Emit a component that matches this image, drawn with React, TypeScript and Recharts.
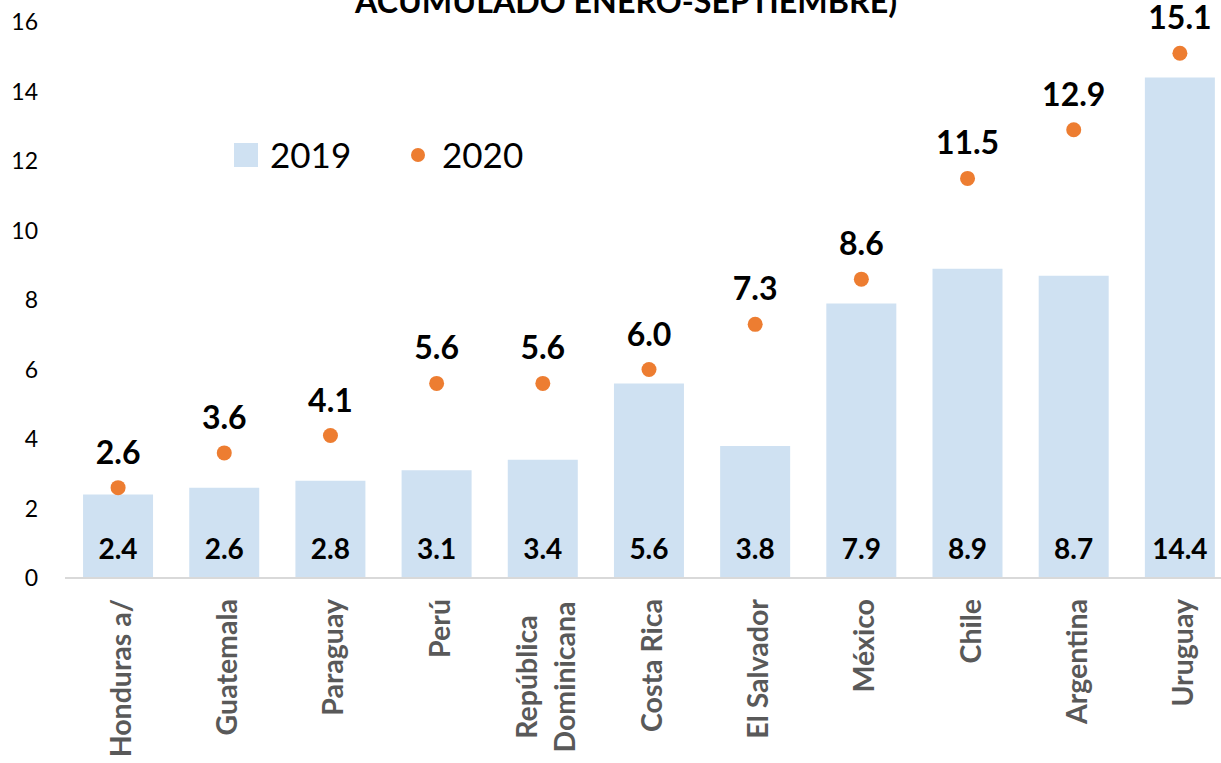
import React from 'react';
import { ComposedChart, Bar, Line, XAxis, YAxis, LabelList } from 'recharts';

const categories = ['Honduras a/', 'Guatemala', 'Paraguay', 'Perú', 'República\nDominicana', 'Costa Rica', 'El Salvador', 'México', 'Chile', 'Argentina', 'Uruguay'];
const values2019 = [2.4, 2.6, 2.8, 3.1, 3.4, 5.6, 3.8, 7.9, 8.9, 8.7, 14.4];
const values2020 = [2.6, 3.6, 4.1, 5.6, 5.6, 6.0, 7.3, 8.6, 11.5, 12.9, 15.1];
const yTicks = [0, 2, 4, 6, 8, 10, 12, 14, 16];
const titleText = 'ACUMULADO ENERO-SEPTIEMBRE)';
const seriesNames = ['2019', '2020'];

const data = categories.map((c, i) => ({ name: c, y2019: values2019[i], y2020: values2020[i] }));

const FONT = 'Lato, "Noto Sans", sans-serif';
const BAR_COLOR = '#CFE1F2';
const DOT_COLOR = '#ED7D31';

const XTick = (props: any) => {
  const { x, y, payload } = props;
  const lines = String(payload.value).split('\n');
  const n = lines.length;
  const L = 38;
  return (
    <g>
      {lines.map((ln, i) => {
        const tx = x + 13 - ((n - 1) * L) / 2 + i * L;
        const ty = n > 1 ? y + 99 : y + 21;
        return (
          <text
            key={i}
            transform={`translate(${tx},${ty}) rotate(-90)`}
            textAnchor={n > 1 ? 'middle' : 'end'}
            fill="#595959"
            fontFamily={FONT}
            fontWeight="bold"
            fontSize={28.5}
          >
            {ln}
          </text>
        );
      })}
    </g>
  );
};

const BarValueLabel = (props: any) => {
  const { x, y, width, height, value } = props;
  return (
    <text x={x + width / 2} y={y + height - 19.5} textAnchor="middle" fill="#000" fontFamily={FONT} fontWeight="bold" fontSize={28}>
      {Number(value).toFixed(1)}
    </text>
  );
};

const DotValueLabel = (props: any) => {
  const { x, y, value } = props;
  return (
    <text x={x} y={y - 24} textAnchor="middle" fill="#000" fontFamily={FONT} fontWeight="bold" fontSize={32}>
      {Number(value).toFixed(1)}
    </text>
  );
};

export default function App() {
  return (
    <div style={{ position: 'fixed', left: 0, top: 0, width: 1221, height: 763, overflow: 'hidden', background: '#fff' }}>
      <div style={{ position: 'absolute', left: 0, top: 0 }}>
        <ComposedChart
          width={1245}
          height={763}
          data={data}
          margin={{ top: 22, right: 12, bottom: 25, left: 0 }}
          barCategoryGap="17%"
        >
          <XAxis
            dataKey="name"
            interval={0}
            tickLine={false}
            tickSize={0}
            tickMargin={0}
            height={160}
            axisLine={{ stroke: '#D9D9D9', strokeWidth: 2 }}
            tick={<XTick />}
          />
          <YAxis
            width={65}
            domain={[0, 16]}
            ticks={yTicks}
            axisLine={false}
            tickLine={false}
            tickSize={0}
            tickMargin={27}
            tick={{ fill: '#000', fontSize: 23, fontFamily: FONT }}
          />
          <Bar dataKey="y2019" name={seriesNames[0]} fill={BAR_COLOR} isAnimationActive={false}>
            <LabelList dataKey="y2019" content={<BarValueLabel />} />
          </Bar>
          <Line
            dataKey="y2020"
            name={seriesNames[1]}
            stroke="none"
            strokeWidth={0}
            dot={{ r: 7.5, fill: DOT_COLOR, stroke: 'none' }}
            activeDot={false}
            isAnimationActive={false}
          >
            <LabelList dataKey="y2020" content={<DotValueLabel />} />
          </Line>
        </ComposedChart>
      </div>
      <svg width={1221} height={200} style={{ position: 'absolute', left: 0, top: 0, pointerEvents: 'none' }}>
        <text x={355} y={13} textLength={542} lengthAdjust="spacingAndGlyphs" fontFamily={FONT} fontWeight="bold" fontSize={32} fill="#000">
          {titleText}
        </text>
        <g transform="translate(234,130)">
          <rect x={0} y={13} width={24} height={24} fill={BAR_COLOR} />
          <text x={36} y={37.5} fontFamily={FONT} fontSize={35} fill="#000">{seriesNames[0]}</text>
          <circle cx={184} cy={25} r={7} fill={DOT_COLOR} />
          <text x={208} y={37.5} fontFamily={FONT} fontSize={35} fill="#000">{seriesNames[1]}</text>
        </g>
      </svg>
    </div>
  );
}
